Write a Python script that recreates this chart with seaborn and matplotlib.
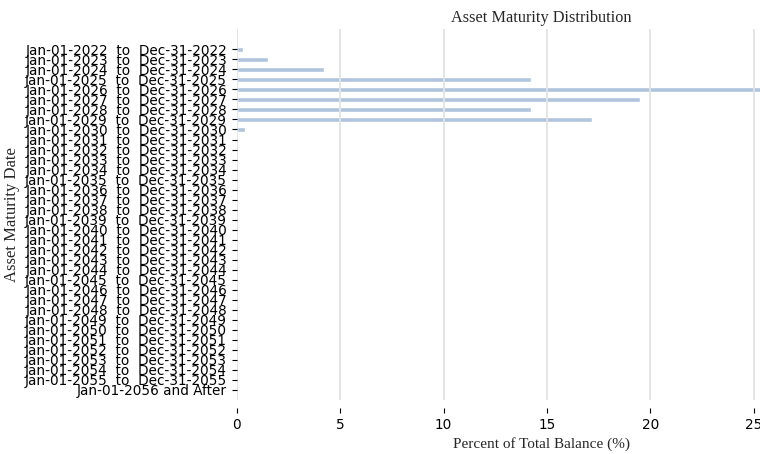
import matplotlib
matplotlib.use("Agg")
import matplotlib.pyplot as plt
import seaborn as sns
import pandas as pd

categories = [
    "Jan-01-2022  to  Dec-31-2022", "Jan-01-2023  to  Dec-31-2023",
    "Jan-01-2024  to  Dec-31-2024", "Jan-01-2025  to  Dec-31-2025",
    "Jan-01-2026  to  Dec-31-2026", "Jan-01-2027  to  Dec-31-2027",
    "Jan-01-2028  to  Dec-31-2028", "Jan-01-2029  to  Dec-31-2029",
    "Jan-01-2030  to  Dec-31-2030", "Jan-01-2031  to  Dec-31-2031",
    "Jan-01-2032  to  Dec-31-2032", "Jan-01-2033  to  Dec-31-2033",
    "Jan-01-2034  to  Dec-31-2034", "Jan-01-2035  to  Dec-31-2035",
    "Jan-01-2036  to  Dec-31-2036", "Jan-01-2037  to  Dec-31-2037",
    "Jan-01-2038  to  Dec-31-2038", "Jan-01-2039  to  Dec-31-2039",
    "Jan-01-2040  to  Dec-31-2040", "Jan-01-2041  to  Dec-31-2041",
    "Jan-01-2042  to  Dec-31-2042", "Jan-01-2043  to  Dec-31-2043",
    "Jan-01-2044  to  Dec-31-2044", "Jan-01-2045  to  Dec-31-2045",
    "Jan-01-2046  to  Dec-31-2046", "Jan-01-2047  to  Dec-31-2047",
    "Jan-01-2048  to  Dec-31-2048", "Jan-01-2049  to  Dec-31-2049",
    "Jan-01-2050  to  Dec-31-2050", "Jan-01-2051  to  Dec-31-2051",
    "Jan-01-2052  to  Dec-31-2052", "Jan-01-2053  to  Dec-31-2053",
    "Jan-01-2054  to  Dec-31-2054", "Jan-01-2055  to  Dec-31-2055",
    "Jan-01-2056 and After",
]
percent_values = [
    0.29, 1.49, 4.20, 14.25, 28.10, 19.49, 14.25, 17.17, 0.39,
    0, 0, 0, 0, 0, 0, 0, 0, 0, 0, 0, 0, 0, 0, 0, 0, 0, 0, 0, 0, 0, 0, 0, 0, 0, 0,
]
x_ticks = [0, 5, 10, 15, 20, 25]

title_text = "Asset Maturity Distribution"
x_label = "Percent of Total Balance (%)"
y_label = "Asset Maturity Date"

sns.set_theme(style="white")
plt.rcParams["font.family"] = ["DejaVu Sans"]

df = pd.DataFrame({"category": categories, "percent": percent_values})

fig = plt.figure(figsize=(7.6, 4.54), dpi=100)
ax = fig.add_axes([236.8 / 760, 1 - 400 / 454, 609.8 / 760, (400 - 29.3) / 454])

sns.barplot(data=df, x="percent", y="category", orient="h", color="#b0c4de",
            saturation=1, width=0.45, ax=ax, zorder=1)

ax.set_xlim(0, 29.49)
ax.set_ylim(35, -2)
ax.set_xticks(x_ticks)
ax.grid(axis="x", color="#e3e3e3", linewidth=1.3, zorder=3)
ax.grid(axis="y", visible=False)
ax.set_axisbelow(False)

for s in ax.spines.values():
    s.set_visible(False)
ax.spines["bottom"].set_position(("outward", 6))

ax.tick_params(axis="both", which="both", length=3.5, width=0.8, color="black",
               labelsize=9.8, left=True, bottom=True, pad=3.5, labelcolor="black")

serif = ["Liberation Serif", "DejaVu Serif"]
ax.set_title(title_text, family=serif, fontsize=11.7, pad=5)
ax.set_xlabel(x_label, family=serif, fontsize=11, labelpad=3.5)
ax.set_ylabel(y_label, family=serif, fontsize=12)
ax.yaxis.set_label_coords(-(236.8 - 20) / 609.8, 0.5)

fig.savefig("out.png", dpi=100)
